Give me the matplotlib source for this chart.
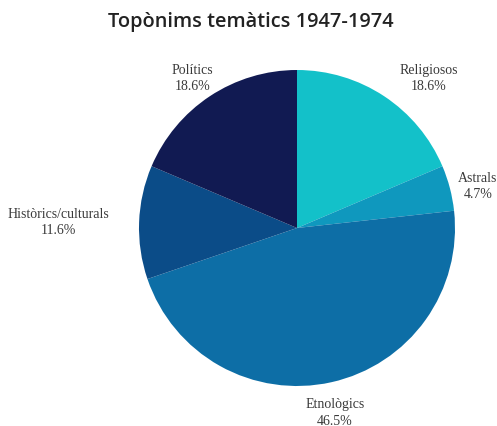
import numpy as np
import matplotlib
matplotlib.use("Agg")
import matplotlib.pyplot as plt

categories = ["Religiosos", "Astrals", "Etnològics", "Històrics/culturals", "Polítics"]
counts = [8, 2, 20, 5, 8]
colors = ["#13C1C9", "#0F98BE", "#0D6EA6", "#0B4C88", "#111A52"]
title = "Topònims temàtics 1947-1974"

# label anchors (axes data units, pie radius = 1)
label_anchor = {
    "Religiosos": (0.65, 0.86, "left", "bottom"),
    "Astrals": (1.02, 0.27, "left", "center"),
    "Etnològics": (0.24, -1.07, "center", "top"),
    "Històrics/culturals": (-1.19, 0.04, "right", "center"),
    "Polítics": (-0.53, 0.86, "right", "bottom"),
}

W, H = 497, 427
fig = plt.figure(figsize=(W / 100, H / 100), dpi=100)
cx, cy, r = 297, 229, 158
ax = fig.add_axes([(cx - r) / W, (H - cy - r) / H, 2 * r / W, 2 * r / H])

wedges, _ = ax.pie(counts, colors=colors, startangle=90, counterclock=False,
                   wedgeprops=dict(linewidth=0))
ax.set_xlim(-1, 1)
ax.set_ylim(-1, 1)
ax.set_aspect("equal")
ax.axis("off")

total = sum(counts)
for cat, c in zip(categories, counts):
    x, y, ha, va = label_anchor[cat]
    ax.text(x, y, f"{cat}\n{100 * c / total:.1f}%", ha=ha, va=va,
            ma="center", fontsize=10, family=["Liberation Serif", "DejaVu Serif"],
            color="#3a3a3a", linespacing=1.35, clip_on=False)

fig.text(0.505, 1 - 22 / H, title, ha="center", va="center", fontsize=14.4,
         family="Open Sans", fontweight="semibold", color="#222222")

fig.savefig("out.png", dpi=100)
